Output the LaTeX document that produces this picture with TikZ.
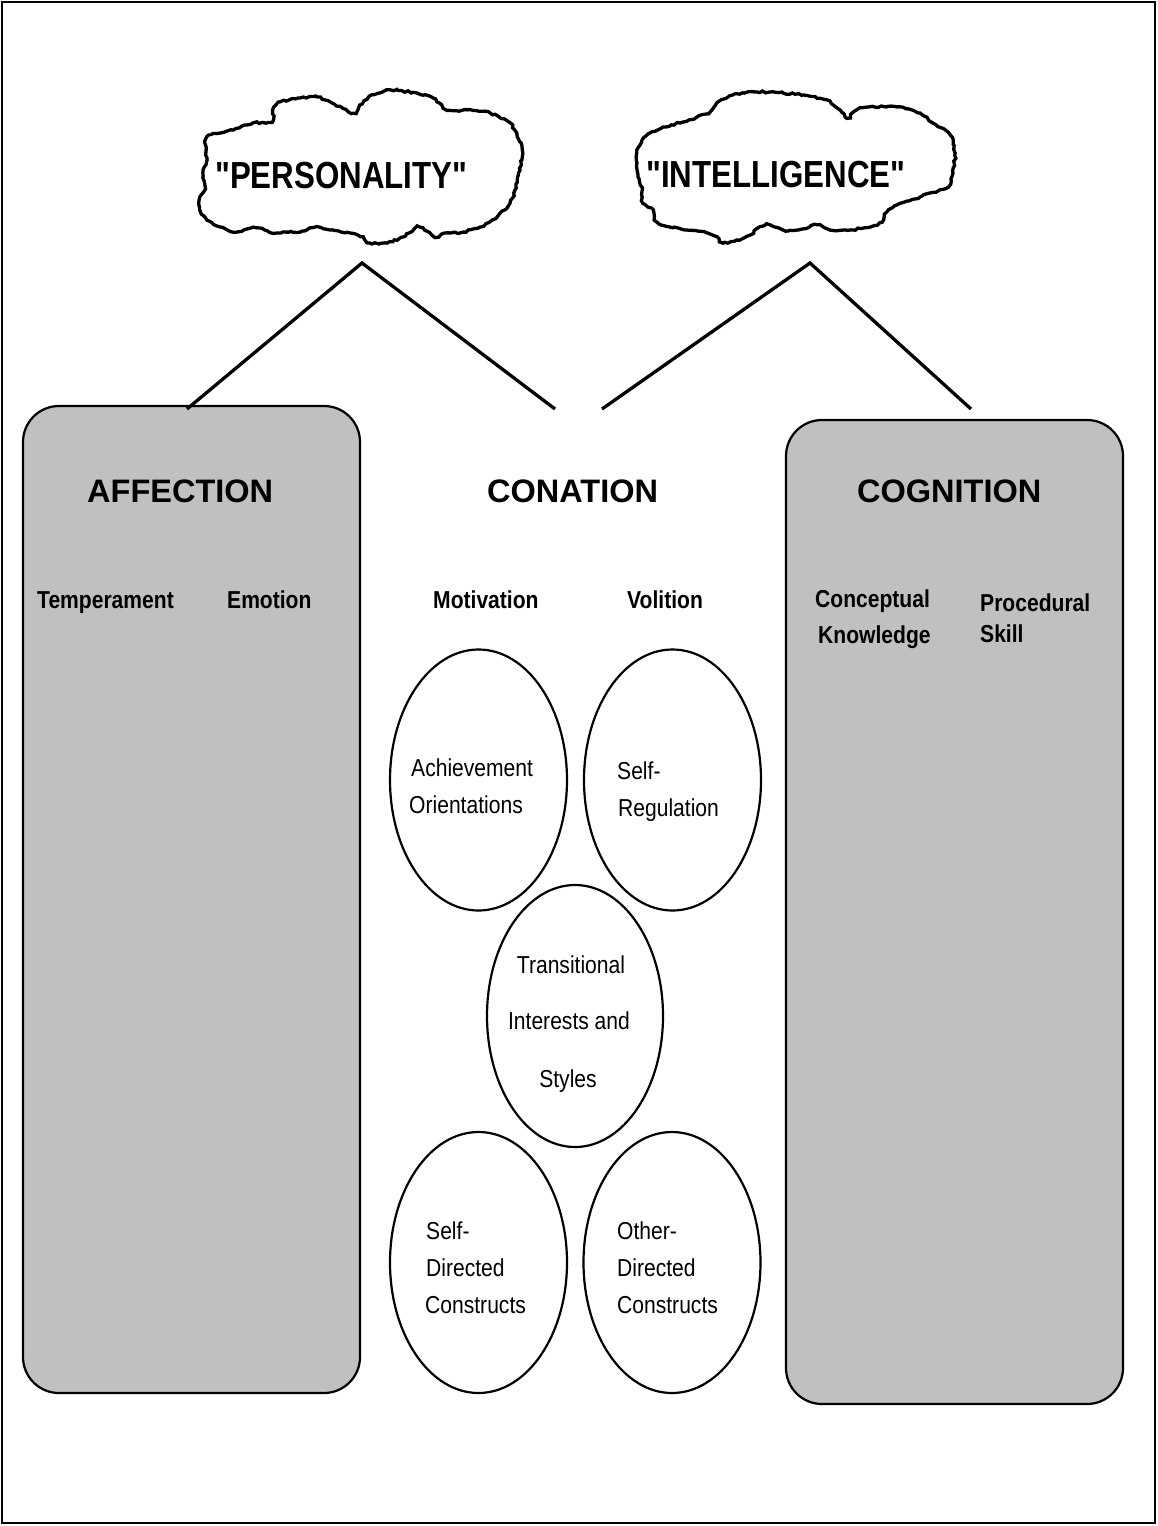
\documentclass[tikz,border=0pt]{standalone}
\usepackage{fontspec}
\setmainfont{Liberation Sans}
\newfontfamily\cloudfont[FakeStretch=0.83]{Liberation Sans}
\newfontfamily\smallfont[FakeStretch=0.86]{Liberation Sans}
\usetikzlibrary{shapes.geometric,decorations.pathmorphing}
\definecolor{boxgray}{RGB}{192,192,192}
\begin{document}
\pgfmathsetseed{11}
\begin{tikzpicture}[x=1pt,y=-1pt,
 panel/.style={draw, line width=2.2pt, fill=boxgray, rounded corners=36pt, minimum width=337pt, inner sep=0pt},
 oval/.style={draw, ellipse, line width=2.2pt, minimum width=177pt, minimum height=261pt, inner sep=0pt},
 link/.style={line width=3.3pt},
 cloudline/.style={line width=3.3pt, line join=miter, decorate, decoration={random steps, segment length=3pt, amplitude=1pt}},
 head/.style={anchor=base west, inner sep=0pt, font=\fontsize{32.5}{38}\selectfont\bfseries},
 lab/.style={anchor=base west, inner sep=0pt, font=\smallfont\fontsize{24.5}{29}\selectfont\bfseries},
 txt/.style={anchor=base west, inner sep=0pt, font=\smallfont\fontsize{24.5}{29}\selectfont},
 ctxt/.style={anchor=base, inner sep=0pt, font=\smallfont\fontsize{24.5}{29}\selectfont},
 cloudtxt/.style={anchor=base west, inner sep=0pt, font=\cloudfont\fontsize{37.7}{44}\selectfont\bfseries}]
\useasboundingbox (0,0) rectangle (1157,1526);
\draw[line width=2.5pt] (2,2) rectangle (1155,1523);

% clouds
\draw[cloudline] plot[smooth cycle, tension=0.4] coordinates {
 (205,143) (210,135) (233,130) (253,123) (272,122) (273,110) (280,102) (300,98)
 (317,97) (332,103) (353,113) (360,105) (372,95) (390,90) (417,93) (433,98)
 (447,110) (467,110) (490,113) (510,123) (518,138) (522,150) (520,170) (515,190)
 (510,203) (497,217) (480,227) (463,232) (447,233) (435,237) (423,228) (417,227)
 (403,237) (387,243) (370,243) (363,237) (350,233) (330,230) (317,227) (300,232)
 (283,232) (273,233) (257,228) (233,232) (220,227) (207,220) (200,210) (200,197)
 (205,187) (203,173) (207,160)};
\draw[cloudline] plot[smooth cycle, tension=0.4] coordinates {
 (637,150) (642,140) (650,133) (663,127) (683,122) (697,117) (710,112) (717,103)
 (733,95) (757,92) (783,93) (803,95) (827,100) (840,110) (847,118) (857,110)
 (870,107) (897,107) (920,113) (933,123) (950,135) (955,153) (953,173) (948,187)
 (930,193) (920,197) (897,205) (887,212) (882,222) (870,227) (850,230) (830,230)
 (817,225) (797,230) (783,230) (770,225) (760,227) (750,235) (740,240) (723,243)
 (717,237) (707,233) (687,230) (670,227) (657,222) (653,210) (643,203) (642,190)
 (638,177) (637,163)};
\node[cloudtxt] (pers) at (215,188) {"PERSONALITY"};
\node[cloudtxt] (intel) at (646,187) {"INTELLIGENCE"};

% panels
\node[panel, minimum height=987pt] (aff) at (191.5,899.5) {};
\node[panel, minimum height=984pt] (cog) at (954.5,912) {};

% connectors
\coordinate (papex) at (362,263);
\coordinate (iapex) at (810,263);
\coordinate (pleft) at (187,409);
\coordinate (pright) at (555,409);
\coordinate (ileft) at (602,409);
\coordinate (iright) at (971,409);
\draw[link] (pleft) -- (papex) -- (pright);
\draw[link] (ileft) -- (iapex) -- (iright);

% headings
\node[head] (affh) at (87,502) {AFFECTION};
\node[head] (conh) at (487,502) {CONATION};
\node[head] (cogh) at (857,502) {COGNITION};

% sub labels
\node[lab] (temp) at (37,608) {Temperament};
\node[lab] (emo) at (227,608) {Emotion};
\node[lab] (mot) at (433,608) {Motivation};
\node[lab] (vol) at (627,608) {Volition};
\node[lab] (conc) at (815,607) {Conceptual};
\node[lab] (know) at (818,643) {Knowledge};
\node[lab] (proc) at (980,611) {Procedural};
\node[lab] (skill) at (980,642) {Skill};

% ellipses
\node[oval] (e1) at (478.5,780) {};
\node[oval] (e2) at (672.5,780) {};
\node[oval, minimum width=176pt, minimum height=262pt] (e3) at (575,1016) {};
\node[oval] (e4) at (478.5,1262.5) {};
\node[oval] (e5) at (672,1262.5) {};

\node[txt] (t1a) at (411,776) {Achievement};
\node[txt] (t1b) at (409,813) {Orientations};
\node[txt] (t2a) at (617,779) {Self-};
\node[txt] (t2b) at (618,816) {Regulation};
\node[ctxt] (t3a) at (571,973) {Transitional};
\node[ctxt] (t3b) at (569,1029) {Interests and};
\node[ctxt] (t3c) at (568,1087) {Styles};
\node[txt] (t4a) at (426,1239) {Self-};
\node[txt] (t4b) at (426,1276) {Directed};
\node[txt] (t4c) at (425,1313) {Constructs};
\node[txt] (t5a) at (617,1239) {Other-};
\node[txt] (t5b) at (617,1276) {Directed};
\node[txt] (t5c) at (617,1313) {Constructs};
\end{tikzpicture}
\end{document}
